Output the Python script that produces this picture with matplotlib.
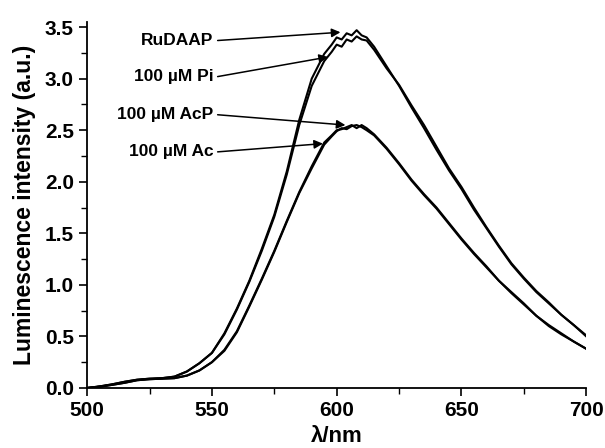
import numpy as np
import matplotlib
matplotlib.use("Agg")
import matplotlib.pyplot as plt
from matplotlib.ticker import MultipleLocator

plt.rcParams['font.family'] = ['Liberation Sans', 'DejaVu Sans']
plt.rcParams['font.weight'] = 'bold'

# wavelength grid (nm) and read-off intensities
wl = [500, 505, 510, 515, 520, 525, 530, 535, 540, 545, 550, 555, 560, 565,
      570, 575, 580, 585, 590, 595, 598, 600, 602, 604, 606, 608, 610, 612,
      615, 620, 625, 630, 635, 640, 645, 650, 655, 660, 665, 670, 675, 680,
      685, 690, 695, 700]

rudaap = [0.0, 0.015, 0.035, 0.06, 0.08, 0.09, 0.095, 0.11, 0.16, 0.24, 0.34,
          0.53, 0.77, 1.04, 1.35, 1.68, 2.10, 2.60, 3.00, 3.24, 3.33, 3.40,
          3.38, 3.44, 3.42, 3.47, 3.42, 3.40, 3.31, 3.12, 2.93, 2.72, 2.52,
          2.31, 2.11, 1.93, 1.73, 1.55, 1.37, 1.20, 1.06, 0.93, 0.82, 0.71,
          0.61, 0.51]

pi = [0.0, 0.015, 0.035, 0.06, 0.08, 0.09, 0.095, 0.11, 0.16, 0.24, 0.34,
      0.52, 0.76, 1.03, 1.33, 1.66, 2.07, 2.55, 2.93, 3.17, 3.26, 3.33,
      3.31, 3.38, 3.36, 3.41, 3.38, 3.37, 3.28, 3.10, 2.94, 2.74, 2.55,
      2.34, 2.13, 1.95, 1.75, 1.56, 1.38, 1.21, 1.07, 0.94, 0.83, 0.71,
      0.61, 0.50]

acp = [0.0, 0.012, 0.03, 0.05, 0.075, 0.085, 0.09, 0.095, 0.12, 0.17, 0.25,
       0.37, 0.55, 0.80, 1.06, 1.33, 1.62, 1.90, 2.15, 2.38, 2.45, 2.50,
       2.51, 2.53, 2.55, 2.52, 2.55, 2.52, 2.46, 2.33, 2.18, 2.02, 1.88,
       1.75, 1.60, 1.45, 1.31, 1.18, 1.04, 0.93, 0.82, 0.70, 0.61, 0.53,
       0.45, 0.38]

ac = [0.0, 0.012, 0.03, 0.05, 0.075, 0.085, 0.09, 0.095, 0.12, 0.17, 0.25,
      0.36, 0.54, 0.79, 1.05, 1.32, 1.61, 1.89, 2.13, 2.36, 2.44, 2.49,
      2.52, 2.51, 2.54, 2.55, 2.53, 2.50, 2.45, 2.32, 2.17, 2.01, 1.87,
      1.74, 1.59, 1.44, 1.30, 1.17, 1.04, 0.92, 0.81, 0.70, 0.60, 0.52,
      0.45, 0.38]

labels = ['RuDAAP', '100 µM Pi', '100 µM AcP', '100 µM Ac']
label_y = [3.37, 3.02, 2.65, 2.29]
arrow_tip = [(601.5, 3.45), (596.5, 3.21), (603.5, 2.55), (594.5, 2.37)]

fig = plt.figure(figsize=(6.05, 4.48), dpi=100)
ax = fig.add_axes([0.144, 0.134, 0.825, 0.817])

for s in (rudaap, pi, acp, ac):
    ax.plot(wl, s, color='black', lw=1.5)

for lab, ly, tip in zip(labels, label_y, arrow_tip):
    ax.text(550.6, ly, lab, ha='right', va='center', fontsize=12.5,
            fontweight='bold')
    ax.annotate('', xy=tip, xytext=(552.3, ly),
                arrowprops=dict(arrowstyle='-|>', color='black', lw=1.1,
                                mutation_scale=13, shrinkA=0, shrinkB=0))

ax.set_xlim(500, 700)
ax.set_ylim(0, 3.55)
ax.xaxis.set_major_locator(MultipleLocator(50))
ax.xaxis.set_minor_locator(MultipleLocator(25))
ax.yaxis.set_minor_locator(MultipleLocator(0.25))
ax.set_yticks(np.arange(0, 3.51, 0.5))
ax.spines['top'].set_visible(False)
ax.spines['right'].set_visible(False)
ax.spines['left'].set_linewidth(1.3)
ax.spines['bottom'].set_linewidth(1.3)
ax.tick_params(which='major', direction='out', length=6, width=1.2,
               labelsize=15)
ax.tick_params(which='minor', direction='out', length=4, width=1.0)
for t in ax.get_xticklabels() + ax.get_yticklabels():
    t.set_fontweight('bold')

ax.set_xlabel('λ/nm', fontsize=16, fontweight='bold', labelpad=4)
ax.set_ylabel('Luminescence intensity (a.u.)', fontsize=16.5,
              fontweight='bold', labelpad=6)

fig.savefig('out.png', dpi=100)
